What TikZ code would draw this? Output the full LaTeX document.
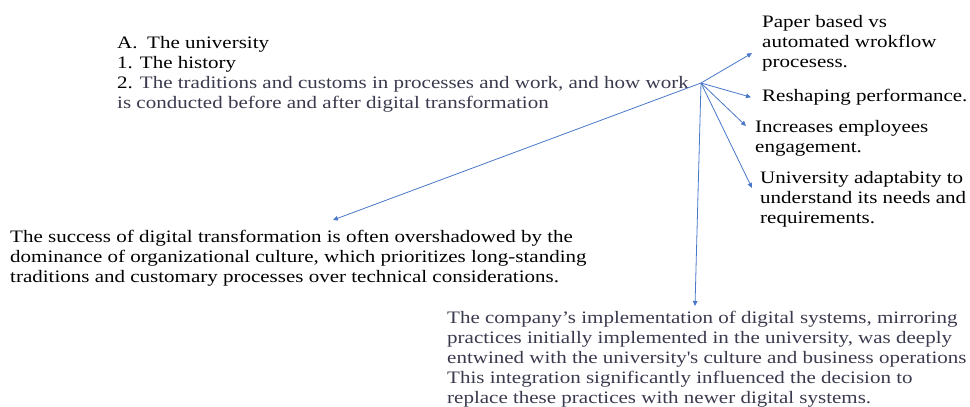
\documentclass[tikz,border=0pt]{standalone}
\usepackage{fontspec}
\setmainfont[FakeStretch=1.2]{Liberation Serif}
\usetikzlibrary{arrows.meta}
\definecolor{linkblue}{HTML}{4A78C8}
\definecolor{slate}{HTML}{3A3A4E}
\begin{document}
\begin{tikzpicture}
  [x=1pt,y=-1pt,
   textN/.style={anchor=north west,inner sep=0pt,align=left,
     font=\fontsize{17.5}{20}\selectfont},
   linkA/.style={draw=linkblue,line width=0.8pt,
     -{Triangle[length=5pt,width=4.5pt]}}]

  \useasboundingbox (0,0) rectangle (970,407);

  \coordinate (hub) at (701,83);

  \node[textN] (univ_a) at (117,36)
    {A.\hspace{0.55em}The university\\
     1. The history\\
     2. \textcolor{slate}{The traditions and customs in processes and work, and how work}\\
     \textcolor{slate}{is conducted before and after digital transformation}};

  \node[textN] (paper)   at (762,15)  {Paper based vs\\automated wrokflow\\procesess.};
  \node[textN] (reshape) at (762,89)  {Reshaping performance.};
  \node[textN] (engage)  at (755,120) {Increases employees\\engagement.};
  \node[textN] (adapt)   at (760,171) {University adaptabity to\\understand its needs and\\requirements.};

  \node[textN] (success) at (10,230)
    {The success of digital transformation is often overshadowed by the\\
     dominance of organizational culture, which prioritizes long-standing\\
     traditions and customary processes over technical considerations.};

  \node[textN,text=slate] (company) at (447,311)
    {The company’s implementation of digital systems, mirroring\\
     practices initially implemented in the university, was deeply\\
     entwined with the university\textquotesingle s culture and business operations\\
     This integration significantly influenced the decision to\\
     replace these practices with newer digital systems.};

  \draw[linkA] (hub) -- ([xshift=-10pt,yshift=-10pt]paper.west);
  \draw[linkA] (hub) -- ([xshift=-11pt]reshape.west);
  \draw[linkA] (hub) -- ([xshift=-9pt,yshift=-6pt]engage.north west);
  \draw[linkA] (hub) -- ([xshift=-8pt,yshift=-17pt]adapt.north west);
  \draw[linkA] (hub) -- ([xshift=248pt,yshift=5pt]company.north west);
  \draw[linkA] (hub) -- ([xshift=323pt,yshift=10pt]success.north west);
\end{tikzpicture}
\end{document}
